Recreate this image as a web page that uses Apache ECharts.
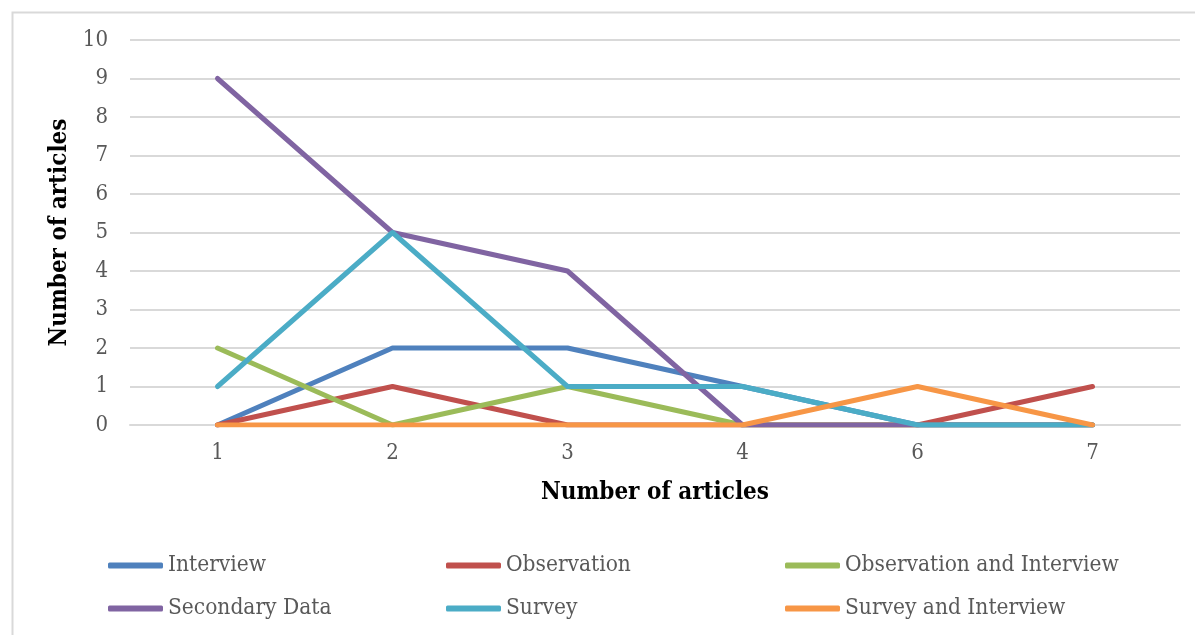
<!DOCTYPE html>
<html>
<head>
<meta charset="utf-8">
<style>
  html, body { margin: 0; padding: 0; background: #fff; }
  #chart { width: 1195px; height: 635px; }
</style>
<script src="https://cdn.jsdelivr.net/npm/echarts@6/dist/echarts.min.js"></script>
</head>
<body>
<div id="chart"></div>
<script>
// Categories along the x axis
const categories = ['1', '2', '3', '4', '6', '7'];

// One array per method
const interview = [0, 2, 2, 1, 0, 0];
const observation = [0, 1, 0, 0, 0, 1];
const observationAndInterview = [2, 0, 1, 0, 0, 0];
const secondaryData = [9, 5, 4, 0, 0, 0];
const survey = [1, 5, 1, 1, 0, 0];
const surveyAndInterview = [0, 0, 0, 0, 1, 0];

const seriesDefs = [
  { name: 'Interview', data: interview, color: '#4F81BD' },
  { name: 'Observation', data: observation, color: '#C0504D' },
  { name: 'Observation and Interview', data: observationAndInterview, color: '#9BBB59' },
  { name: 'Secondary Data', data: secondaryData, color: '#8064A2' },
  { name: 'Survey', data: survey, color: '#4BACC6' },
  { name: 'Survey and Interview', data: surveyAndInterview, color: '#F79646' }
];

const FONT = '"DejaVu Serif Condensed", "DejaVu Serif", serif';

// Three legend columns, two rows each
const legendBase = {
  orient: 'vertical',
  top: 554,
  padding: 0,
  itemGap: 20,
  itemWidth: 55,
  itemHeight: 6,
  icon: 'roundRect',
  textStyle: { fontFamily: FONT, fontSize: 22.5, color: '#595959' }
};

const chart = echarts.init(document.getElementById('chart'));
chart.setOption({
  animation: false,
  backgroundColor: '#fff',
  color: seriesDefs.map(s => s.color),
  graphic: [{
    type: 'rect',
    left: 10, top: 10,
    shape: { width: 1200, height: 640 },
    style: { fill: 'none', stroke: '#D9D9D9', lineWidth: 2 },
    silent: true
  }],
  grid: { left: 130, right: 15, top: 40, bottom: 210 },
  xAxis: {
    type: 'category',
    data: categories,
    boundaryGap: true,
    name: 'Number of articles',
    nameLocation: 'middle',
    nameGap: 56,
    nameTextStyle: { fontFamily: FONT, fontSize: 24, fontWeight: 'bold', color: '#000' },
    axisLine: { lineStyle: { color: '#D9D9D9', width: 2 } },
    axisTick: { show: false },
    axisLabel: { fontFamily: FONT, fontSize: 22, color: '#595959', margin: 17 }
  },
  yAxis: {
    type: 'value',
    min: 0, max: 10, interval: 1,
    name: 'Number of articles',
    nameLocation: 'middle',
    nameGap: 54,
    nameTextStyle: { fontFamily: FONT, fontSize: 24, fontWeight: 'bold', color: '#000' },
    axisLine: { show: false },
    axisTick: { show: false },
    axisLabel: { fontFamily: FONT, fontSize: 22, color: '#595959', margin: 22 },
    splitLine: { lineStyle: { color: '#D9D9D9', width: 2 } }
  },
  legend: [
    Object.assign({}, legendBase, { left: 108, data: ['Interview', 'Secondary Data'] }),
    Object.assign({}, legendBase, { left: 446, data: ['Observation', 'Survey'] }),
    Object.assign({}, legendBase, { left: 785, data: ['Observation and Interview', 'Survey and Interview'] })
  ],
  series: seriesDefs.map(s => ({
    name: s.name,
    type: 'line',
    data: s.data,
    showSymbol: false,
    symbol: 'none',
    lineStyle: { width: 5, color: s.color, cap: 'round', join: 'round' },
    itemStyle: { color: s.color }
  }))
});
</script>
</body>
</html>
